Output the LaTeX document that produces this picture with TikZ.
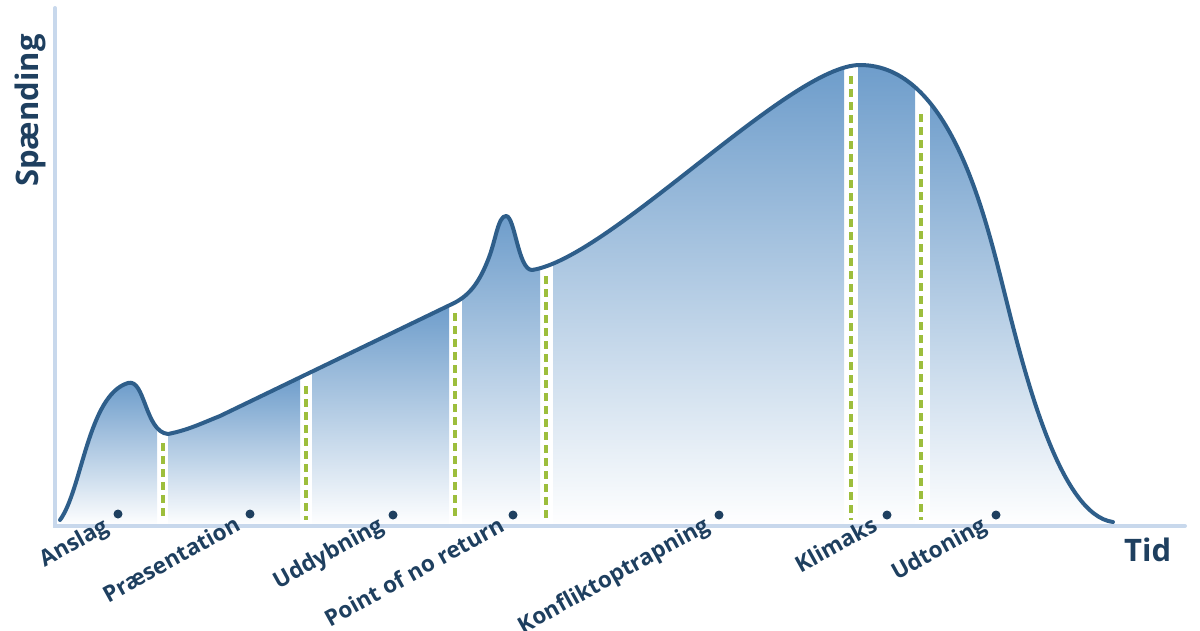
\documentclass[tikz,border=0pt]{standalone}
\usepackage{fontspec}
\setmainfont{Open Sans}
\definecolor{navy}{HTML}{1E3F5F}
\definecolor{curveblue}{HTML}{2E5E8A}
\definecolor{axisblue}{HTML}{C8D8EC}
\definecolor{fillblue}{HTML}{6E9DCB}
\definecolor{dashgreen}{HTML}{9DBE3C}
\begin{document}
\begin{tikzpicture}[x=1pt,y=-1pt,
  lbl/.style={font=\bfseries\fontsize{22.5}{26}\selectfont, text=navy, rotate=29, inner sep=0pt, anchor=base east},
  axislbl/.style={font=\bfseries\fontsize{31}{36}\selectfont, text=navy, inner sep=0pt},
  dashline/.style={dashgreen, line width=3.5pt, dash pattern=on 8pt off 5pt},
  seg/.style={top color=fillblue, bottom color=white, draw=none},
  dotmark/.style={fill=navy}]
\useasboundingbox (0,0) rectangle (1200,630);
% fill
\begin{scope}
\clip (60,520) .. controls (82,490) and (88,395) .. (128,383)
  .. controls (145,378) and (145,432) .. (168,434)
  .. controls (188,430) and (200,424) .. (220,416)
  -- (450,305)
  .. controls (468,297) and (478,285) .. (488,260)
  .. controls (496,240) and (498,216) .. (506,216)
  .. controls (515,216) and (518,270) .. (532,270)
  .. controls (610,258) and (790,65) .. (860,65)
  .. controls (950,65) and (985,215) .. (1005,295)
  .. controls (1025,375) and (1060,515) .. (1113,522)
  -- (1113,526) -- (60,526) -- cycle;
\shade[seg] (55,383) rectangle (157,526);
\shade[seg] (168,378) rectangle (300,526);
\shade[seg] (312,305) rectangle (449,526);
\shade[seg] (462,216) rectangle (540,526);
\shade[seg] (553,68) rectangle (844,526);
\shade[seg] (858,65) rectangle (915,526);
\shade[seg] (930,90) rectangle (1115,526);
\end{scope}
% axes
\draw[axisblue, line width=4pt, line cap=round] (55,8) -- (55,526) -- (1185,526);
% curve
\draw[curveblue, line width=4pt, line cap=round, line join=round]
  (60,520) .. controls (82,490) and (88,395) .. (128,383)
  .. controls (145,378) and (145,432) .. (168,434)
  .. controls (188,430) and (200,424) .. (220,416)
  -- (450,305)
  .. controls (468,297) and (478,285) .. (488,260)
  .. controls (496,240) and (498,216) .. (506,216)
  .. controls (515,216) and (518,270) .. (532,270)
  .. controls (610,258) and (790,65) .. (860,65)
  .. controls (950,65) and (985,215) .. (1005,295)
  .. controls (1025,375) and (1060,515) .. (1113,522);
% dashed markers
\draw[dashline] (163,443) -- (163,520);
\draw[dashline] (306,386) -- (306,520);
\draw[dashline] (455,313) -- (455,520);
\draw[dashline] (546,276) -- (546,520);
\draw[dashline] (851,76) -- (851,520);
\draw[dashline] (921,114) -- (921,520);
% dots
\fill[dotmark] (118,514) circle (4.5);
\fill[dotmark] (250,514) circle (4.5);
\fill[dotmark] (393,515) circle (4.5);
\fill[dotmark] (513,515) circle (4.5);
\fill[dotmark] (719,515) circle (4.5);
\fill[dotmark] (887,515) circle (4.5);
\fill[dotmark] (996,515) circle (4.5);
% labels
\node[lbl] (anslag) at (110,531) {Anslag};
\node[lbl] (praes) at (242,529) {Præsentation};
\node[lbl] (uddyb) at (385,530) {Uddybning};
\node[lbl] (ponr) at (506,530) {Point of no return};
\node[lbl] (konf) at (711,530) {Konfliktoptrapning};
\node[lbl] (klim) at (879,530) {Klimaks};
\node[lbl] (udt) at (988,530) {Udtoning};
\node[axislbl, anchor=base west] (tid) at (1124,561) {Tid};
\node[axislbl, anchor=base west, rotate=90] (spaend) at (38,187) {Spænding};
\end{tikzpicture}
\end{document}
